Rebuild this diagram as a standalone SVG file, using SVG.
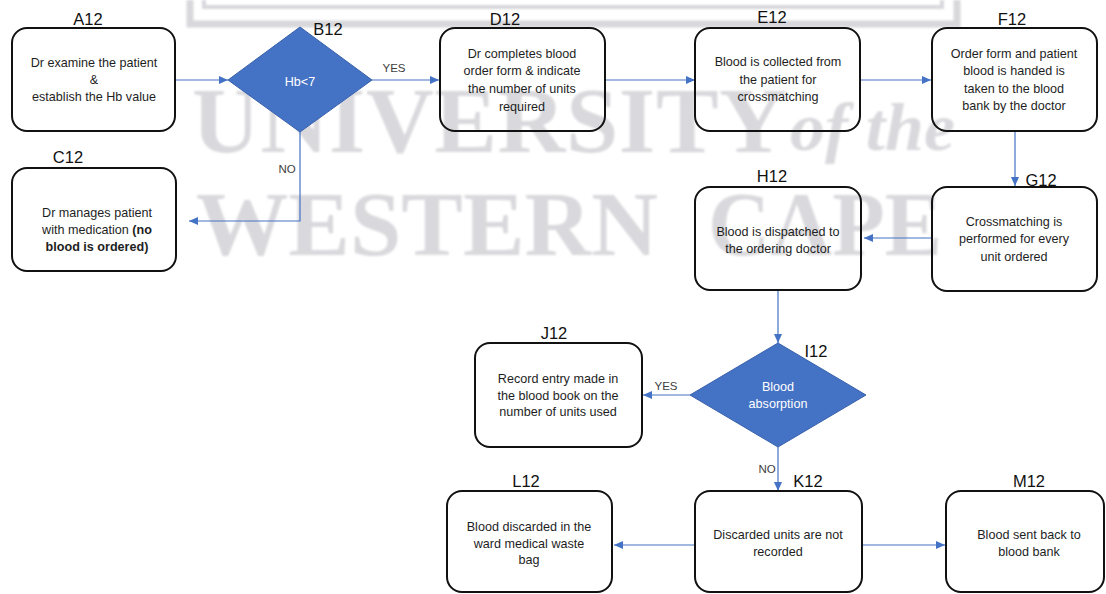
<svg xmlns="http://www.w3.org/2000/svg" width="1106" height="594" viewBox="0 0 1106 594">
  <style>
    .box { fill: none; stroke: #111; stroke-width: 2; }
    .dia { fill: #4472C4; stroke: #3A62AC; stroke-width: 1; }
    .txt { font-family: "Liberation Sans", Arial, sans-serif; font-size: 12.6px; fill: #1e1e1e; text-anchor: middle; }
    .wtxt { font-family: "Liberation Sans", Arial, sans-serif; font-size: 12.6px; fill: #ffffff; text-anchor: middle; }
    .lbl { font-family: "Liberation Sans", Arial, sans-serif; font-size: 16.5px; fill: #111; text-anchor: middle; }
    .yn { font-family: "Liberation Sans", Arial, sans-serif; font-size: 11.5px; fill: #404040; text-anchor: middle; }
    .conn { fill: none; stroke: #4472C4; stroke-width: 1.2; }
    .wm { font-family: "Liberation Serif", "Times New Roman", serif; font-weight: bold; fill: #d9d9dd; }
    .crest { fill: none; stroke: #d8d8dc; }
  </style>
  <defs>
    <marker id="arrow" viewBox="0 0 9 8" refX="9" refY="4" markerWidth="9" markerHeight="8" markerUnits="userSpaceOnUse" orient="auto">
      <path d="M0,0 L9,4 L0,8 z" fill="#4472C4"/>
    </marker>
    <filter id="soft" x="-5%" y="-5%" width="110%" height="110%">
      <feGaussianBlur stdDeviation="0.9"/>
    </filter>
  </defs>

  <rect width="1106" height="594" fill="#ffffff"/>

  <!-- background watermark -->
  <g id="watermark" filter="url(#soft)">
    <path class="crest" d="M190,0 V24 H957 V0" stroke-width="7"/>
    <path class="crest" d="M204,0 V7 H942 V0" stroke-width="4"/>
    <text class="wm" x="192" y="152" font-size="94" textLength="595" lengthAdjust="spacing">UNIVERSITY</text>
    <text class="wm" x="790" y="150" font-size="68" font-style="italic" textLength="165" lengthAdjust="spacingAndGlyphs">of the</text>
    <text class="wm" x="196" y="255" font-size="92" textLength="462" lengthAdjust="spacingAndGlyphs">WESTERN</text>
    <text class="wm" x="708" y="255" font-size="92" textLength="234" lengthAdjust="spacingAndGlyphs">CAPE</text>
  </g>

  <!-- connectors -->
  <g id="connectors">
    <line class="conn" x1="175" y1="80" x2="228" y2="80" marker-end="url(#arrow)"/>
    <line class="conn" x1="372" y1="80" x2="439" y2="80" marker-end="url(#arrow)"/>
    <text class="yn" x="394" y="72">YES</text>
    <polyline class="conn" points="300,132 300,221 189,221" marker-end="url(#arrow)"/>
    <text class="yn" x="287" y="173">NO</text>
    <line class="conn" x1="605" y1="80" x2="695" y2="80" marker-end="url(#arrow)"/>
    <line class="conn" x1="860" y1="80" x2="931" y2="80" marker-end="url(#arrow)"/>
    <line class="conn" x1="1015" y1="131" x2="1015" y2="186" marker-end="url(#arrow)"/>
    <line class="conn" x1="932" y1="238" x2="864" y2="238" marker-end="url(#arrow)"/>
    <line class="conn" x1="778" y1="290" x2="778" y2="343" marker-end="url(#arrow)"/>
    <line class="conn" x1="690" y1="395" x2="643" y2="395" marker-end="url(#arrow)"/>
    <text class="yn" x="666" y="390">YES</text>
    <line class="conn" x1="778" y1="447" x2="778" y2="491" marker-end="url(#arrow)"/>
    <text class="yn" x="767" y="473">NO</text>
    <line class="conn" x1="695" y1="545" x2="614" y2="545" marker-end="url(#arrow)"/>
    <line class="conn" x1="862" y1="545" x2="945" y2="545" marker-end="url(#arrow)"/>
  </g>

  <g id="A12">
    <text class="lbl" x="88" y="25">A12</text>
    <rect class="box" x="12" y="28" width="163" height="103" rx="15"/>
    <text class="txt" x="94" y="67">Dr examine the patient</text>
    <text class="txt" x="94" y="84">&amp;</text>
    <text class="txt" x="94" y="101">establish the Hb value</text>
  </g>

  <g id="B12">
    <text class="lbl" x="328" y="35">B12</text>
    <polygon class="dia" points="300,27 372,80 300,132 228,80"/>
    <text class="wtxt" x="300" y="86">Hb&lt;7</text>
  </g>

  <g id="C12">
    <text class="lbl" x="68" y="163">C12</text>
    <rect class="box" x="12" y="168" width="164" height="103" rx="15"/>
    <text class="txt" x="97" y="217">Dr manages patient</text>
    <text class="txt" x="97" y="234">with medication <tspan font-weight="bold">(no</tspan></text>
    <text class="txt" x="97" y="251" font-weight="bold">blood is ordered)</text>
  </g>

  <g id="D12">
    <text class="lbl" x="505" y="25">D12</text>
    <rect class="box" x="440" y="28" width="165" height="103" rx="15"/>
    <text class="txt" x="522" y="58">Dr completes blood</text>
    <text class="txt" x="522" y="75">order form &amp; indicate</text>
    <text class="txt" x="522" y="93">the number of units</text>
    <text class="txt" x="522" y="111">required</text>
  </g>

  <g id="E12">
    <text class="lbl" x="772" y="23">E12</text>
    <rect class="box" x="695" y="28" width="165" height="103" rx="15"/>
    <text class="txt" x="778" y="66">Blood is collected from</text>
    <text class="txt" x="778" y="84">the patient for</text>
    <text class="txt" x="778" y="101">crossmatching</text>
  </g>

  <g id="F12">
    <text class="lbl" x="1012" y="25">F12</text>
    <rect class="box" x="932" y="28" width="165" height="103" rx="15"/>
    <text class="txt" x="1014" y="58">Order form and patient</text>
    <text class="txt" x="1014" y="75">blood is handed is</text>
    <text class="txt" x="1014" y="93">taken to the blood</text>
    <text class="txt" x="1014" y="110">bank by the doctor</text>
  </g>

  <g id="G12">
    <text class="lbl" x="1041" y="186">G12</text>
    <rect class="box" x="932" y="187" width="165" height="104" rx="15"/>
    <text class="txt" x="1014" y="226">Crossmatching is</text>
    <text class="txt" x="1014" y="243">performed for every</text>
    <text class="txt" x="1014" y="261">unit ordered</text>
  </g>

  <g id="H12">
    <text class="lbl" x="772" y="182">H12</text>
    <rect class="box" x="695" y="187" width="166" height="103" rx="15"/>
    <text class="txt" x="778" y="236">Blood is dispatched to</text>
    <text class="txt" x="778" y="253">the ordering doctor</text>
  </g>

  <g id="I12">
    <text class="lbl" x="816" y="357">I12</text>
    <polygon class="dia" points="778,343 866,395 778,447 690,395"/>
    <text class="wtxt" x="778" y="391">Blood</text>
    <text class="wtxt" x="778" y="408">absorption</text>
  </g>

  <g id="J12">
    <text class="lbl" x="554" y="339">J12</text>
    <rect class="box" x="475" y="343" width="167" height="104" rx="15"/>
    <text class="txt" x="558" y="383">Record entry made in</text>
    <text class="txt" x="558" y="400">the blood book on the</text>
    <text class="txt" x="558" y="416">number of units used</text>
  </g>

  <g id="K12">
    <text class="lbl" x="808" y="487">K12</text>
    <rect class="box" x="695" y="491" width="167" height="101" rx="15"/>
    <text class="txt" x="778" y="539">Discarded units are not</text>
    <text class="txt" x="778" y="556">recorded</text>
  </g>

  <g id="L12">
    <text class="lbl" x="526" y="487">L12</text>
    <rect class="box" x="447" y="491" width="165" height="101" rx="15"/>
    <text class="txt" x="529" y="531">Blood discarded in the</text>
    <text class="txt" x="529" y="548">ward medical waste</text>
    <text class="txt" x="529" y="564">bag</text>
  </g>

  <g id="M12">
    <text class="lbl" x="1029" y="487">M12</text>
    <rect class="box" x="946" y="491" width="158" height="101" rx="15"/>
    <text class="txt" x="1029" y="539">Blood sent back to</text>
    <text class="txt" x="1029" y="556">blood bank</text>
  </g>
</svg>
